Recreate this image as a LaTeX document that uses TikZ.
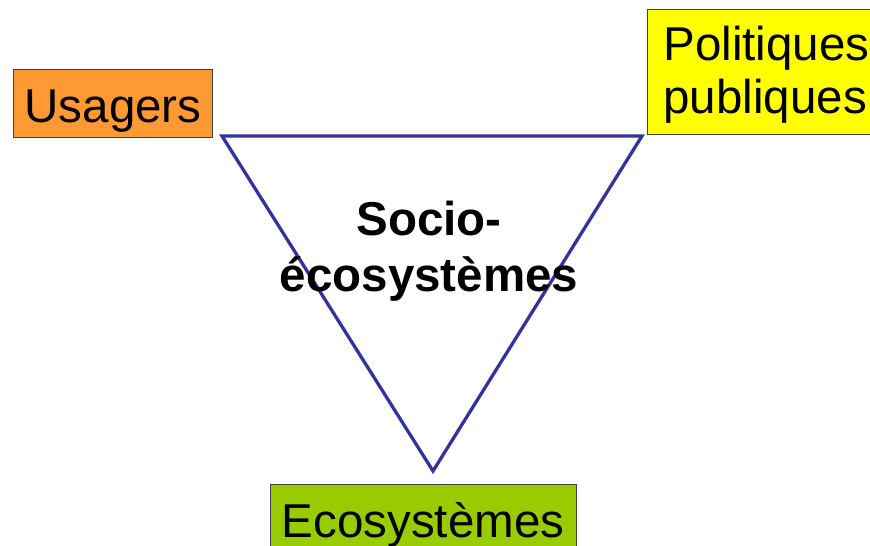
\documentclass[tikz,border=0pt]{standalone}
\usepackage{fontspec}
\setmainfont{Liberation Sans}
\usetikzlibrary{calc}

\definecolor{trait}{RGB}{51,51,153}
\definecolor{orangebox}{RGB}{255,153,51}
\definecolor{jaunebox}{RGB}{255,255,0}
\definecolor{vertbox}{RGB}{153,204,0}
\definecolor{bord}{RGB}{64,64,64}

\begin{document}
\begin{tikzpicture} [x=1pt,y=-1pt,
  boite/.style={draw=bord,line width=1pt,inner sep=0pt,
    font=\fontsize{47.5}{53}\selectfont}]

\clip (0,0) rectangle (870,546);

\coordinate(A) at (222,136);
\coordinate(B) at (642,136);
\coordinate(C) at (433,471);

\draw[trait,line width=3.3pt,line join=miter] (A) -- (B) -- (C) -- cycle;

\node[boite,fill=orangebox,anchor=north west,minimum width=199,minimum height=68,
  text height=38,text depth=0] (usagers) at (13,69) {Usagers};
\node[boite,fill=jaunebox,anchor=north west,inner xsep=16,text width=210,
  minimum height=125,align=left] (politiques) at (647,9) {\rule{0pt}{40pt}Politiques\\publiques};
\node[boite,fill=vertbox,anchor=north,minimum width=306,inner ysep=18,
  text height=35,text depth=40] (ecosys) at (423,484) {Ecosystèmes};

\node[font=\fontsize{47.5}{56}\selectfont\bfseries,align=center] (socio) at (429,251) {Socio-\\écosystèmes};

\end{tikzpicture}
\end{document}
